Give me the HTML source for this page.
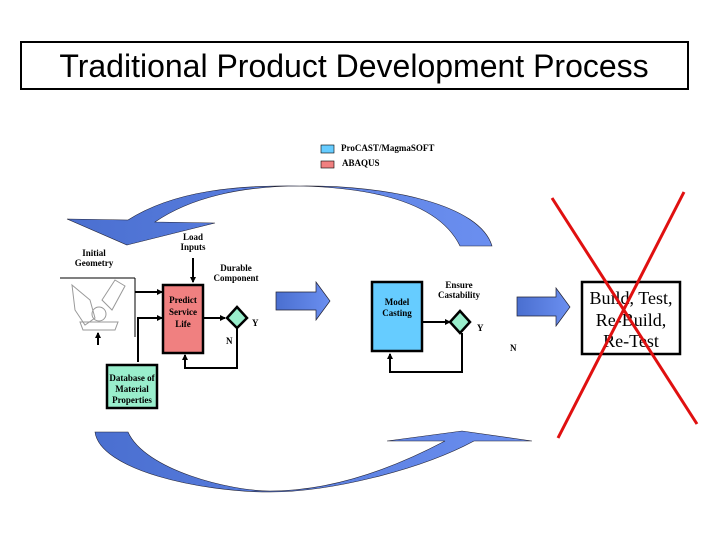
<!DOCTYPE html>
<html><head><meta charset="utf-8"><style>
html,body{margin:0;padding:0;background:#fff;width:720px;height:540px;overflow:hidden}
svg{display:block}
.t{font-family:"Liberation Serif",serif;font-weight:bold;font-size:9px;fill:#000}
</style></head><body>
<svg width="720" height="540" viewBox="0 0 720 540" xmlns="http://www.w3.org/2000/svg">
<defs>
<marker id="ah" markerWidth="6" markerHeight="6" refX="5" refY="3" orient="auto" markerUnits="userSpaceOnUse"><path d="M0,0 L6,3 L0,6 z" fill="#000"/></marker>
<linearGradient id="g1" x1="0" x2="1"><stop offset="0" stop-color="#4a6fd0"/><stop offset="1" stop-color="#6b8ff0"/></linearGradient>
</defs>
<rect x="21" y="42" width="667" height="47" fill="#fff" stroke="#000" stroke-width="2"/>
<text x="354" y="77" text-anchor="middle" font-family="Liberation Sans, sans-serif" font-size="32">Traditional Product Development Process</text>

<rect x="321" y="145" width="13" height="8" fill="#66ccff" stroke="#000" stroke-width="0.6"/>
<text class="t" x="341" y="151" font-size="8">ProCAST/MagmaSOFT</text>
<rect x="321" y="161" width="13" height="7" fill="#f08080" stroke="#000" stroke-width="0.6"/>
<text class="t" x="342" y="166" font-size="8">ABAQUS</text>

<path d="M492,246 L460,246 C440,205 380,188 300,186 C240,186 190,198 155,222 L215,223 L127,245 L67,219 L128,220 C175,190 240,185 300,186 C390,185 480,205 492,246 z" fill="url(#g1)" stroke="#223" stroke-width="0.6"/>
<path d="M95,432 L128,432 C145,470 230,491 270,491 C330,491 390,470 445,441 L387,441 L462,431 L532,441 L474,441 C420,470 330,492 270,492 C200,492 100,470 95,432 z" fill="url(#g1)" stroke="#223" stroke-width="0.6"/>

<g stroke="#999" fill="none" stroke-width="1">
<path d="M72,285 L90,300 L95,318 L85,325 L75,310 z"/>
<path d="M115,280 L125,286 L112,310 L102,300 z"/>
<circle cx="99" cy="314" r="7"/>
<path d="M80,322 L118,322 L115,330 L83,330 z"/>
</g>
<line x1="60" y1="278" x2="135" y2="278" stroke="#000" stroke-width="1"/>
<line x1="135" y1="278" x2="135" y2="337" stroke="#000" stroke-width="1"/>
<line x1="98" y1="345" x2="98" y2="333" stroke="#000" stroke-width="2" marker-end="url(#ah)"/>

<text class="t" x="94" y="256" text-anchor="middle">Initial</text>
<text class="t" x="94" y="266" text-anchor="middle">Geometry</text>
<text class="t" x="193" y="240" text-anchor="middle">Load</text>
<text class="t" x="193" y="250" text-anchor="middle">Inputs</text>
<line x1="193" y1="258" x2="193" y2="282" stroke="#000" stroke-width="2" marker-end="url(#ah)"/>
<text class="t" x="236" y="271" text-anchor="middle">Durable</text>
<text class="t" x="236" y="281" text-anchor="middle">Component</text>

<line x1="135" y1="292" x2="162" y2="292" stroke="#000" stroke-width="2" marker-end="url(#ah)"/>
<polyline points="138,362 138,318 162,318" fill="none" stroke="#000" stroke-width="2" marker-end="url(#ah)"/>
<rect x="163" y="285" width="40" height="68" fill="#f08080" stroke="#000" stroke-width="2.5"/>
<text class="t" x="183" y="303" text-anchor="middle">Predict</text>
<text class="t" x="183" y="315" text-anchor="middle">Service</text>
<text class="t" x="183" y="327" text-anchor="middle">Life</text>
<line x1="203" y1="318" x2="225" y2="318" stroke="#000" stroke-width="2" marker-end="url(#ah)"/>
<path d="M237,307 L247,318 L237,328 L227,318 z" fill="#99eecc" stroke="#000" stroke-width="2.5"/>
<text class="t" x="252" y="326">Y</text>
<text class="t" x="226" y="344">N</text>
<polyline points="237,328 237,368 185,368 185,355" fill="none" stroke="#000" stroke-width="2" marker-end="url(#ah)"/>

<rect x="107" y="365" width="50" height="43" fill="#99eecc" stroke="#000" stroke-width="2.5"/>
<text class="t" x="132" y="381" text-anchor="middle">Database of</text>
<text class="t" x="132" y="392" text-anchor="middle">Material</text>
<text class="t" x="132" y="403" text-anchor="middle">Properties</text>

<path d="M276,292 L316,292 L316,282 L330,301 L316,320 L316,310 L276,310 z" fill="url(#g1)" stroke="#223" stroke-width="0.7"/>
<path d="M517,297 L556,297 L556,288 L570,307 L556,326 L556,316 L517,316 z" fill="url(#g1)" stroke="#223" stroke-width="0.7"/>

<rect x="372" y="282" width="50" height="69" fill="#66ccff" stroke="#000" stroke-width="2.5"/>
<text class="t" x="397" y="305" text-anchor="middle">Model</text>
<text class="t" x="397" y="316" text-anchor="middle">Casting</text>
<line x1="422" y1="322" x2="450" y2="322" stroke="#000" stroke-width="2" marker-end="url(#ah)"/>
<path d="M460,311 L470,322 L460,333 L450,322 z" fill="#99eecc" stroke="#000" stroke-width="2.5"/>
<text class="t" x="459" y="288" text-anchor="middle">Ensure</text>
<text class="t" x="459" y="298" text-anchor="middle">Castability</text>
<text class="t" x="477" y="331">Y</text>
<text class="t" x="510" y="351">N</text>
<polyline points="462,333 462,372 390,372 390,354" fill="none" stroke="#000" stroke-width="2" marker-end="url(#ah)"/>

<rect x="582" y="282" width="98" height="72" fill="#fff" stroke="#000" stroke-width="2.5"/>
<text x="631" y="304" text-anchor="middle" font-family="Liberation Serif, serif" font-size="18">Build, Test,</text>
<text x="631" y="326" text-anchor="middle" font-family="Liberation Serif, serif" font-size="18">Re-Build,</text>
<text x="631" y="347" text-anchor="middle" font-family="Liberation Serif, serif" font-size="18">Re-Test</text>
<line x1="552" y1="198" x2="697" y2="424" stroke="#e01010" stroke-width="3"/>
<line x1="684" y1="192" x2="558" y2="438" stroke="#e01010" stroke-width="3"/>
</svg>
</body></html>
